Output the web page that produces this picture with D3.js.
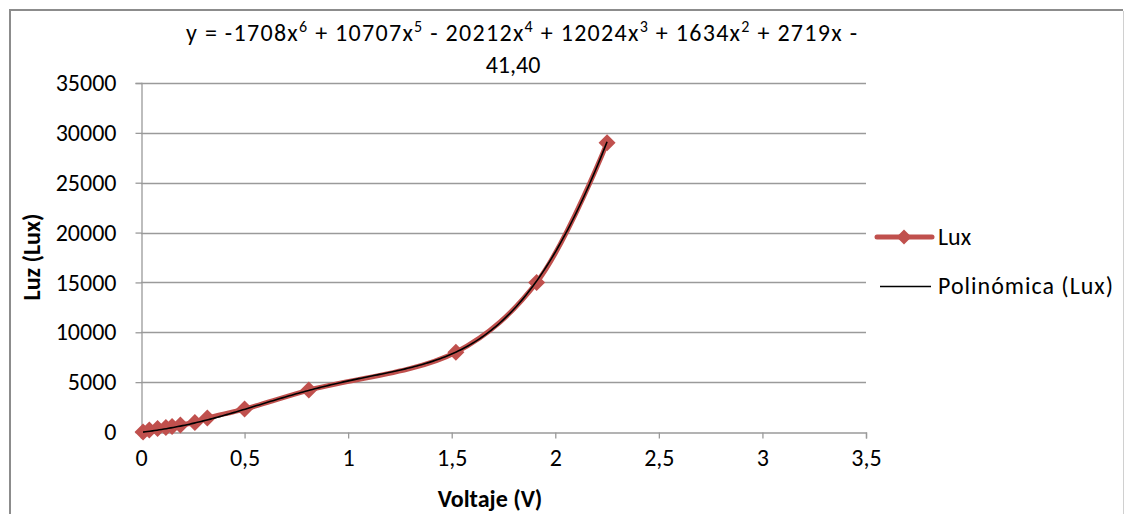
<!DOCTYPE html>
<html>
<head>
<meta charset="utf-8">
<script src="https://cdn.jsdelivr.net/npm/d3@7"></script>
<style>
  html, body { margin: 0; padding: 0; background: #fff; }
  svg { display: block; font-family: Carlito, Lato, "Open Sans", sans-serif; }
</style>
</head>
<body>
<svg id="chart" width="1124" height="514"></svg>
<script>
// ---- data ----
const voltage = [0.01, 0.04, 0.08, 0.12, 0.15, 0.19, 0.26, 0.32, 0.50, 0.81, 1.52, 1.91, 2.25];
const lux     = [0, 200, 350, 450, 550, 700, 950, 1400, 2300, 4200, 8000, 15000, 29000];
// polynomial trendline coefficients, highest degree first (x^6 ... x^0)
const trendCoefs = [-1708, 10707, -20212, 12024, 1634, 2719, -41.40];
const xTicks = [0, 0.5, 1, 1.5, 2, 2.5, 3, 3.5];
const yTicks = [0, 5000, 10000, 15000, 20000, 25000, 30000, 35000];
const seriesName = "Lux";
const trendName = "Polinómica (Lux)";
const xTitle = "Voltaje (V)";
const yTitle = "Luz (Lux)";

const FS = "24px";
const svg = d3.select("#chart");
const W = 1124, H = 514;
const m = { left: 141, right: 866, top: 83, bottom: 432 };

// chart border
svg.append("line").attr("x1", 10).attr("x2", 10).attr("y1", 9).attr("y2", H).attr("stroke", "#8c8c8c").attr("stroke-width", 2);
svg.append("line").attr("x1", 9).attr("x2", 1123).attr("y1", 10).attr("y2", 10).attr("stroke", "#8c8c8c").attr("stroke-width", 2);
svg.append("line").attr("x1", 1123.5).attr("x2", 1123.5).attr("y1", 11).attr("y2", H).attr("stroke", "#d0d0d0").attr("stroke-width", 1);

const x = d3.scaleLinear().domain([0, 3.5]).range([m.left, m.right]);
const y = d3.scaleLinear().domain([0, 35000]).range([m.bottom, m.top]);

// gridlines
svg.append("g").selectAll("line").data(yTicks.filter(d => d > 0)).join("line")
  .attr("x1", m.left).attr("x2", m.right)
  .attr("y1", d => Math.round(y(d)) + 0.5).attr("y2", d => Math.round(y(d)) + 0.5)
  .attr("stroke", "#9a9a9a").attr("stroke-width", 1.3);

const fmt = d => String(d).replace(".", ",");

// y axis
const yAxis = svg.append("g").attr("transform", `translate(${m.left + 0.5},0)`)
  .call(d3.axisLeft(y).tickValues(yTicks).tickSize(6).tickPadding(19).tickFormat(d => d));
// x axis
const xAxis = svg.append("g").attr("transform", `translate(0,${m.bottom + 0.5})`)
  .call(d3.axisBottom(x).tickValues(xTicks).tickSize(6).tickPadding(10).tickFormat(fmt));
[yAxis, xAxis].forEach(a => {
  a.select(".domain").attr("stroke", "#9a9a9a").attr("stroke-width", 1.3);
  a.selectAll(".tick line").attr("stroke", "#9a9a9a").attr("stroke-width", 1.3);
  a.selectAll(".tick text").attr("fill", "#000").style("font-size", FS)
   .style("font-family", "Carlito, Lato, 'Open Sans', sans-serif");
});

// trendline from displayed polynomial
const poly = xv => trendCoefs.reduce((acc, c) => acc * xv + c, 0);
const xMin = d3.min(voltage), xMax = d3.max(voltage);
const trendPts = d3.range(0, 201).map(i => xMin + (xMax - xMin) * i / 200).map(v => [v, poly(v)]);

// series line (smoothed)
const lineGen = d3.line().x(d => x(d[0])).y(d => y(d[1])).curve(d3.curveCatmullRom.alpha(0.5));
const pts = voltage.map((v, i) => [v, lux[i]]);
const red = "#C0504D";
svg.append("path").datum(pts).attr("d", lineGen)
  .attr("fill", "none").attr("stroke", red).attr("stroke-width", 5).attr("stroke-linejoin", "round");

const diamond = s => `M0,${-s}L${s},0L0,${s}L${-s},0Z`;
svg.append("g").selectAll("path").data(pts).join("path")
  .attr("transform", d => `translate(${x(d[0])},${y(d[1])})`)
  .attr("d", diamond(8.5)).attr("fill", red);

svg.append("path").datum(trendPts)
  .attr("d", d3.line().x(d => x(d[0])).y(d => y(d[1])))
  .attr("fill", "none").attr("stroke", "#000").attr("stroke-width", 1.6);

// equation label
const eq = svg.append("text").attr("x", 186).attr("y", 41)
  .attr("textLength", 671).attr("lengthAdjust", "spacing")
  .style("font-size", FS).attr("fill", "#000");
const sup = (t) => eq.append("tspan").attr("dy", -9).style("font-size", "16px").text(t);
const base = (t) => eq.append("tspan").attr("dy", 9).text(t);
eq.append("tspan").text("y = -1708x");
sup("6"); base(" + 10707x"); sup("5"); base(" - 20212x"); sup("4"); base(" + 12024x"); sup("3");
base(" + 1634x"); sup("2"); base(" + 2719x -");
svg.append("text").attr("x", 513).attr("y", 73).attr("text-anchor", "middle")
  .style("font-size", FS).text(fmt(trendCoefs[6].toFixed(2)).replace("-", ""));

// axis titles
svg.append("text").attr("x", 490).attr("y", 507).attr("text-anchor", "middle")
  .style("font-size", FS).style("font-weight", "bold").text(xTitle);
svg.append("text").attr("transform", "translate(40,257) rotate(-90)").attr("text-anchor", "middle")
  .style("font-size", FS).style("font-weight", "bold").text(yTitle);

// legend
const lg = svg.append("g");
lg.append("line").attr("x1", 877).attr("x2", 932).attr("y1", 237).attr("y2", 237)
  .attr("stroke", red).attr("stroke-width", 5).attr("stroke-linecap", "round");
lg.append("path").attr("transform", "translate(904,237)").attr("d", diamond(7.5)).attr("fill", red);
lg.append("text").attr("x", 938).attr("y", 245).style("font-size", FS).text(seriesName);
lg.append("line").attr("x1", 880).attr("x2", 931).attr("y1", 286.5).attr("y2", 286.5)
  .attr("stroke", "#000").attr("stroke-width", 1.5);
lg.append("text").attr("x", 938).attr("y", 294).style("font-size", FS)
  .attr("textLength", 175).attr("lengthAdjust", "spacing").text(trendName);
</script>
</body>
</html>
